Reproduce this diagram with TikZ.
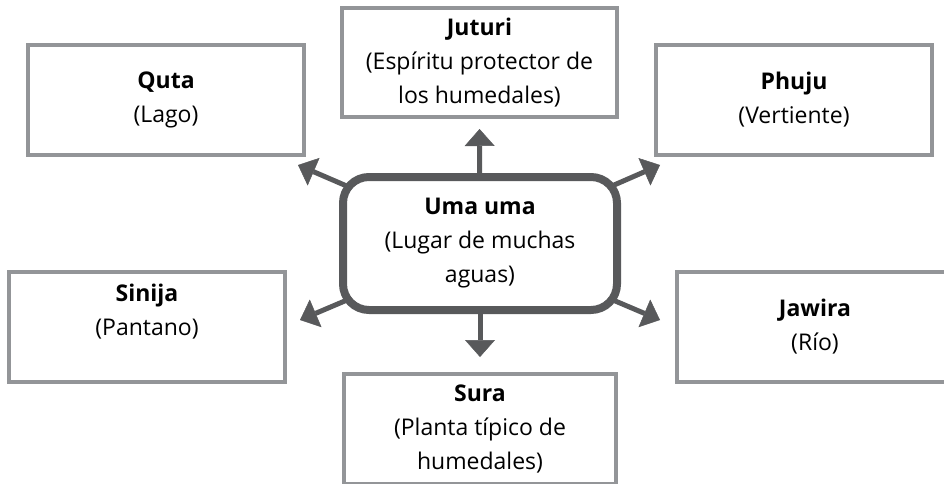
\documentclass[tikz,border=0pt]{standalone}
\usepackage{fontspec}
\setmainfont{Open Sans}
\usetikzlibrary{arrows.meta,backgrounds,calc}
\definecolor{boxgray}{RGB}{147,149,152}
\definecolor{umagray}{RGB}{88,89,91}

\begin{document}
\begin{tikzpicture}[x=1pt, y=-1pt,
            term/.style={draw=boxgray, line width=4pt, fill=white,
                minimum width=276pt, minimum height=110pt, inner sep=0pt,
                outer sep=0pt, align=center, font=\fontsize{23}{34}\selectfont},
            core/.style={term, draw=umagray, line width=8pt, rounded corners=26pt,
                minimum width=274pt, minimum height=133pt},
            link/.style={umagray, line width=5pt,
                -{Triangle[length=17pt, width=30pt, line width=0.5pt]}}
        ]
            \path[use as bounding box, clip] (0,0) rectangle (944,484);

            % Boxes
            \node [term, minimum width=275pt, minimum height=109pt] (juturi) at (479.5,62.5)
                {\textbf{Juturi}\\(Espíritu protector de\\los humedales)};
            \node [term] (quta) at (166,100) {\textbf{Quta}\\(Lago)};
            \node [term] (phuju) at (794,100) {\textbf{Phuju}\\(Vertiente)};
            \node [core] (uma) at (480,243.5) {\textbf{Uma uma}\\(Lugar de muchas\\aguas)};
            \node [term] (sinija) at (147,327) {\textbf{Sinija}\\(Pantano)\\\mbox{}};
            \node [term] (jawira) at (815,327) {\textbf{Jawira}\\(Río)};
            \node [term, minimum width=272pt] (sura) at (480,429)
                {\textbf{Sura}\\(Planta típico de\\humedales)};

            % Arrows
            \begin{scope}[on background layer]
                \draw [link, shorten >=12pt] (uma.center) -- (juturi.south);
                \draw [link, shorten >=17pt] (uma.center) -- (sura.north);
                \draw [link] (uma.center) -- ($(quta.south east)+(-6,10)$);
                \draw [link] (uma.center) -- ($(phuju.south west)+(4,10)$);
                \draw [link] (uma.center) -- ($(sinija.east)+(15,-7)$);
                \draw [link] (uma.center) -- ($(jawira.west)+(-17,-7)$);
            \end{scope}
        \end{tikzpicture}
\end{document}
